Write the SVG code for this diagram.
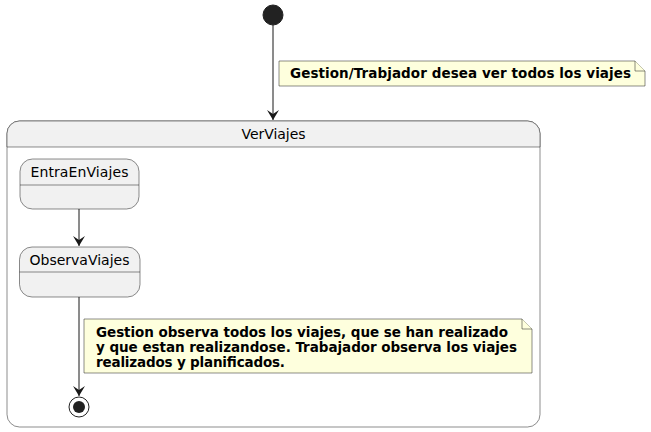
<svg xmlns="http://www.w3.org/2000/svg" width="651" height="432" viewBox="0 0 651 432">
<style>
.st{fill:#F1F1F1;stroke:#181818;stroke-width:0.5}
.nt{fill:#FEFFDD;stroke:#181818;stroke-width:0.5}
.ln{fill:none;stroke:#181818;stroke-width:1}
.lbl{font-family:"DejaVu Sans",sans-serif;font-size:14px;fill:#000}
.ntx{font-family:"DejaVu Sans",sans-serif;font-size:13.5px;font-weight:bold;fill:#000}
</style>
<defs>
<marker id="ah" viewBox="0 0 12 12" refX="10" refY="6" markerWidth="12" markerHeight="12" markerUnits="userSpaceOnUse" orient="auto">
<path d="M0,0 L10,6 L0,12 L4,6 Z" fill="#181818"/>
</marker>
</defs>
<g id="VerViajes">
<rect x="7" y="121" width="533" height="306" rx="12.5" ry="12.5" fill="#FFFFFF" stroke="#181818" stroke-width="0.5"/>
<path class="st" d="M7,147 L7,133.5 A12.5,12.5 0 0 1 19.5,121 L527.5,121 A12.5,12.5 0 0 1 540,133.5 L540,147 Z"/>
<text class="lbl" x="273.5" y="139" text-anchor="middle" textLength="64" lengthAdjust="spacing">VerViajes</text>
</g>
<g id="start">
<circle cx="273" cy="15" r="10" fill="#222222" stroke="#222222"/>
</g>
<g id="EntraEnViajes">
<rect class="st" x="20" y="159" width="119" height="50" rx="12.5" ry="12.5"/>
<line class="st" x1="20" y1="185" x2="139" y2="185"/>
<text class="lbl" x="79.5" y="177" text-anchor="middle" textLength="98" lengthAdjust="spacing">EntraEnViajes</text>
</g>
<g id="ObservaViajes">
<rect class="st" x="19.5" y="247" width="120.5" height="50" rx="12.5" ry="12.5"/>
<line class="st" x1="19.5" y1="272" x2="140" y2="272"/>
<text class="lbl" x="79.5" y="265" text-anchor="middle" textLength="100" lengthAdjust="spacing">ObservaViajes</text>
</g>
<g id="end">
<circle cx="79" cy="407" r="10" fill="none" stroke="#222222" stroke-width="1"/>
<circle cx="79" cy="407" r="6" fill="#222222"/>
</g>
<g id="note1">
<path class="nt" d="M279,61 L635,61 L645,71 L645,86 L279,86 Z"/>
<path class="nt" d="M635,61 L635,71 L645,71"/>
<text class="ntx" x="290" y="78" textLength="341" lengthAdjust="spacing">Gestion/Trabjador desea ver todos los viajes</text>
</g>
<g id="note2">
<path class="nt" d="M84,319 L522,319 L532,329 L532,373 L84,373 Z"/>
<path class="nt" d="M522,319 L522,329 L532,329"/>
<text class="ntx" x="96" y="337" textLength="412" lengthAdjust="spacing">Gestion observa todos los viajes, que se han realizado</text>
<text class="ntx" x="96" y="352" textLength="421" lengthAdjust="spacing">y que estan realizandose. Trabajador observa los viajes</text>
<text class="ntx" x="96" y="367" textLength="189" lengthAdjust="spacing">realizados y planificados.</text>
</g>
<g id="connectors">
<line class="ln" x1="273" y1="25" x2="273" y2="120" marker-end="url(#ah)"/>
<line class="ln" x1="79" y1="209" x2="79" y2="246" marker-end="url(#ah)"/>
<line class="ln" x1="79" y1="297" x2="79" y2="396" marker-end="url(#ah)"/>
</g>
</svg>
